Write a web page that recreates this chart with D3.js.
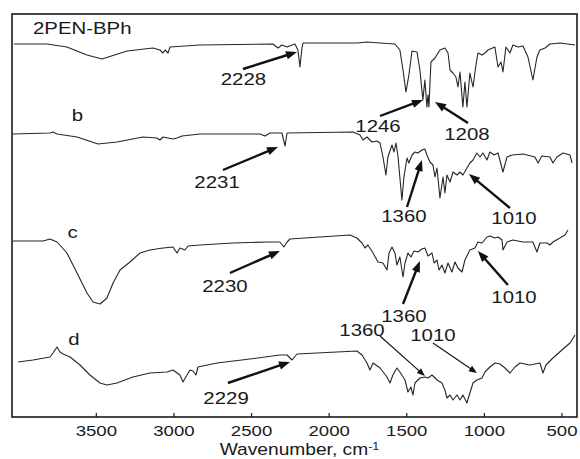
<!DOCTYPE html>
<html>
<head>
<meta charset="utf-8">
<script src="https://cdn.jsdelivr.net/npm/d3@7"></script>
<style>
  html, body { margin: 0; padding: 0; background: #fff; }
  svg { display: block; }
  text { font-family: "Liberation Sans", Arial, sans-serif; fill: #1a1a1a; }
</style>
</head>
<body>
<svg id="chart" width="580" height="459"></svg>
<script>
// Wavenumber ticks (cm-1)
const xTicks = [3500, 3000, 2500, 2000, 1500, 1000, 500];

// FTIR spectra: [wavenumber, transmittance (a.u., stacked with offsets)]
const spectrumA = [
  [4027,374],[3815,374],[3686,371],[3557,363],[3460,359],[3299,367],[3132,370],[3087,368],
  [3067,365],[3054,368],[3035,365],[3022,371],[2829,373],[2359,374],[2326,370],[2301,373],
  [2268,371],[2217,374],[2198,368],[2185,351],[2172,370],[2165,375],[1818,375],[1753,376],
  [1669,375],[1573,374],[1541,368],[1521,348],[1502,326],[1483,343],[1463,367],[1431,366],
  [1412,348],[1393,318],[1380,338],[1367,311],[1360,323],[1354,311],[1341,356],[1315,360],
  [1283,368],[1251,370],[1231,365],[1218,348],[1199,345],[1180,341],[1167,331],[1154,346],
  [1135,311],[1122,336],[1109,311],[1090,345],[1070,331],[1051,353],[1038,365],[1012,363],
  [993,365],[974,368],[929,371],[909,351],[890,356],[877,346],[858,371],[832,365],[813,373],
  [780,371],[748,372],[716,361],[684,338],[658,361],[639,368],[606,370],[574,374],[510,375],
  [413,373]
];

const spectrumB = [
  [4034,284],[3795,285],[3776,286],[3750,284],[3621,281],[3486,274],[3364,276],[3196,281],
  [3106,280],[3087,278],[3067,281],[3003,279],[2977,280],[2945,282],[2829,284],[2442,284],
  [2410,282],[2378,285],[2301,285],[2281,272],[2268,285],[1843,286],[1798,283],[1779,278],
  [1753,281],[1721,276],[1689,277],[1669,275],[1650,261],[1631,243],[1618,261],[1592,273],
  [1579,266],[1566,275],[1553,261],[1528,218],[1515,241],[1495,260],[1483,255],[1463,263],
  [1444,266],[1425,265],[1399,268],[1380,269],[1367,263],[1347,256],[1328,253],[1315,241],
  [1302,250],[1283,220],[1263,241],[1251,225],[1238,243],[1218,236],[1199,246],[1173,243],
  [1154,246],[1135,243],[1109,250],[1090,255],[1070,258],[1045,265],[1025,261],[1006,265],
  [980,258],[961,266],[935,263],[909,265],[877,246],[851,261],[819,263],[748,264],[671,261],
  [651,255],[626,262],[574,261],[555,255],[529,261],[490,265],[445,263],[432,255]
];

const spectrumC = [
  [4034,177],[3840,177],[3795,179],[3750,176],[3686,165],[3621,145],[3557,125],[3518,116],
  [3473,114],[3428,120],[3389,135],[3344,148],[3280,156],[3215,165],[3151,168],[3067,170],
  [3003,171],[2977,165],[2958,170],[2926,168],[2906,172],[2829,173],[2616,175],[2397,176],
  [2314,176],[2288,171],[2268,176],[2249,179],[1863,183],[1818,180],[1785,175],[1766,170],
  [1747,173],[1714,165],[1682,156],[1650,155],[1624,148],[1611,165],[1592,171],[1573,165],
  [1560,153],[1541,161],[1521,141],[1508,155],[1489,165],[1470,161],[1450,167],[1425,166],
  [1399,169],[1380,170],[1360,162],[1334,165],[1321,155],[1302,158],[1289,148],[1270,153],
  [1251,145],[1231,155],[1206,146],[1186,156],[1167,150],[1141,146],[1122,158],[1090,168],
  [1058,170],[1038,176],[1012,175],[980,181],[961,182],[929,180],[909,181],[883,178],
  [877,168],[851,176],[813,178],[748,176],[684,176],[658,166],[639,175],[593,175],[574,173],
  [555,176],[510,180],[478,183],[458,188]
];

const spectrumD = [
  [4001,56],[3905,58],[3795,61],[3776,65],[3750,71],[3731,66],[3711,64],[3666,61],[3602,53],
  [3538,43],[3473,35],[3428,33],[3364,35],[3261,41],[3151,45],[3041,46],[3003,48],[2958,43],
  [2938,36],[2913,43],[2893,48],[2874,47],[2855,43],[2842,51],[2719,55],[2507,59],[2314,63],
  [2268,63],[2236,58],[2204,64],[1818,67],[1785,63],[1753,55],[1734,48],[1714,55],[1669,50],
  [1624,41],[1605,35],[1586,43],[1560,50],[1541,46],[1508,38],[1489,26],[1470,31],[1457,23],
  [1444,35],[1412,40],[1380,41],[1360,40],[1334,43],[1302,38],[1270,35],[1251,28],[1238,20],
  [1218,23],[1199,18],[1173,23],[1154,18],[1135,23],[1109,15],[1090,25],[1070,35],[1045,38],
  [1012,40],[993,46],[961,51],[929,55],[896,54],[864,50],[832,45],[800,51],[767,55],[703,53],
  [639,55],[619,45],[600,53],[555,60],[497,68],[445,75],[413,83]
];

const spectra = [spectrumA, spectrumB, spectrumC, spectrumD];

// Trace names, placed at [wavenumber, transmittance]
const traceNames = ["2PEN-BPh", "b", "c", "d"];
const traceNameAt = [[3905, 384], [3618, 297], [3650, 180], [3641, 73]];
const traceNameAnchor = ["start", "middle", "middle", "middle"];

// Peak assignments: label text, label anchor point, arrow tail and tip
const peakText = ["2228", "1246", "1208", "2231", "1360", "1010", "2230", "1360", "1010", "2229", "1360", "1010"];
const peakLabelAt = [[2549,333],[1682,286],[1109,278],[2719,230],[1515,196],[806,194],
                     [2668,126],[1515,96],[806,115],[2661,14],[1785,82],[1328,77]];
const peakTail = [[2552,349],[1669,302],[1102,295],[2681,248],[1495,211],[832,210],
                  [2636,145],[1521,114],[845,133],[2649,35],[1669,82],[1328,75]];
const peakTip  = [[2204,366],[1392,318],[1315,316],[2326,271],[1399,258],[1096,244],
                  [2314,167],[1412,157],[1038,167],[2249,56],[1380,42],[1045,45]];
const peakArrowHeavy = [true, true, true, true, true, true, true, true, true, true, false, false];

const frame = { left: 12, right: 577, top: 14, bottom: 417 };
const textStretch = 1.2;

const svg = d3.select("#chart");

const x = d3.scaleLinear().domain([4040, 400]).range([frame.left, frame.right]);
const y = d3.scaleLinear().domain([0, 404]).range([418, frame.top]);

// spectra
const line = d3.line().x(d => x(d[0])).y(d => y(d[1])).curve(d3.curveLinear);
svg.append("g")
  .selectAll("path")
  .data(spectra)
  .join("path")
  .attr("d", line)
  .attr("fill", "none")
  .attr("stroke", "#262626")
  .attr("stroke-width", 1.1)
  .attr("stroke-linejoin", "round");

// plot frame
svg.append("rect")
  .attr("x", frame.left).attr("y", frame.top)
  .attr("width", frame.right - frame.left)
  .attr("height", frame.bottom - frame.top)
  .attr("fill", "none").attr("stroke", "#1a1a1a").attr("stroke-width", 1.6);

// x axis (inward ticks)
const xAxis = svg.append("g")
  .attr("transform", `translate(0,${frame.bottom})`)
  .call(d3.axisBottom(x).tickValues(xTicks).tickSizeInner(-4).tickSizeOuter(0).tickFormat(d3.format("d")));
xAxis.select(".domain").remove();
xAxis.selectAll(".tick line").attr("stroke", "#1a1a1a").attr("stroke-width", 1.2);
xAxis.selectAll(".tick text")
  .attr("y", 19).attr("dy", 0)
  .attr("font-size", 15.5)
  .attr("font-family", "Liberation Sans, Arial, sans-serif")
  .attr("fill", "#1a1a1a")
  .attr("transform", `scale(${textStretch},1)`);

// axis title
const title = svg.append("text")
  .attr("text-anchor", "middle")
  .attr("font-size", 16)
  .attr("transform", `translate(${(frame.left + frame.right) / 2 + 5},455) scale(${textStretch},1)`);
title.append("tspan").text("Wavenumber, cm");
title.append("tspan").attr("font-size", 10.5).attr("dy", -5.5).text("-1");

function stretchedText(txt, px, py, anchor) {
  return svg.append("text")
    .attr("text-anchor", anchor)
    .attr("font-size", 17)
    .attr("transform", `translate(${px},${py}) scale(${textStretch},1)`)
    .text(txt);
}

// trace names
traceNames.forEach((name, i) => {
  const [w, v] = traceNameAt[i];
  stretchedText(name, x(w), y(v), traceNameAnchor[i]);
});

// peak annotations with arrows
const arrows = svg.append("g");
peakText.forEach((txt, i) => {
  const [lw, lv] = peakLabelAt[i];
  stretchedText(txt, x(lw), y(lv), "middle");

  const x0 = x(peakTail[i][0]), y0 = y(peakTail[i][1]);
  const x1 = x(peakTip[i][0]), y1 = y(peakTip[i][1]);
  const heavy = peakArrowHeavy[i];
  const headLen = heavy ? 11 : 8, headHalf = heavy ? 4.2 : 3.2;
  const dx = x1 - x0, dy = y1 - y0, len = Math.hypot(dx, dy);
  const ux = dx / len, uy = dy / len;
  const bx = x1 - ux * headLen, by = y1 - uy * headLen;

  arrows.append("line")
    .attr("x1", x0).attr("y1", y0)
    .attr("x2", bx + ux * 1).attr("y2", by + uy * 1)
    .attr("stroke", "#111").attr("stroke-width", heavy ? 2.4 : 1.1);
  arrows.append("path")
    .attr("d", `M${x1},${y1}L${bx - uy * headHalf},${by + ux * headHalf}L${bx + uy * headHalf},${by - ux * headHalf}Z`)
    .attr("fill", "#111");
});
</script>
</body>
</html>
